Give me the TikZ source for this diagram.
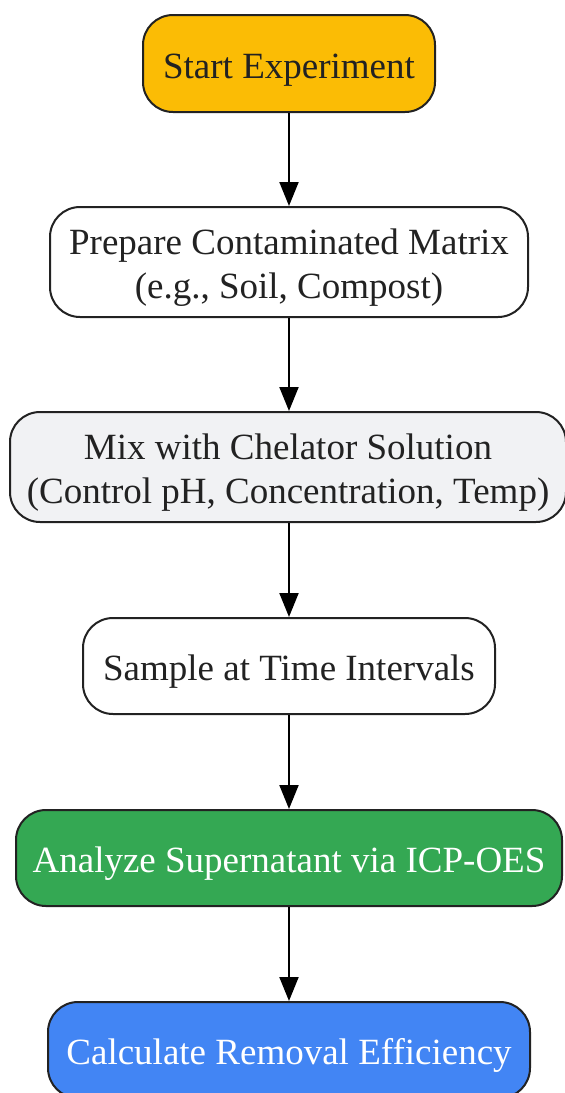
\documentclass[tikz,border=0pt]{standalone}
\usepackage{fontspec}
\setmainfont{Liberation Serif}
\usetikzlibrary{arrows.meta}
\definecolor{startc}{HTML}{FBBC05}
\definecolor{mixc}{HTML}{F1F2F4}
\definecolor{anac}{HTML}{34A853}
\definecolor{calcc}{HTML}{4285F4}
\definecolor{edgec}{HTML}{222222}
\newcommand{\boxtxt}[1]{\raisebox{-6pt}[\height][\depth]{\begin{tabular}{@{}c@{}}#1\end{tabular}}}
\begin{document}
\begin{tikzpicture}[x=1pt,y=-1pt,
  box/.style={draw=edgec,line width=2pt,rounded corners=30pt,inner sep=0pt,
    text=edgec,font=\fontsize{37}{44}\selectfont},
  flow/.style={line width=2pt,-{Triangle[length=24pt,width=19pt]}}]
\useasboundingbox (0,0) rectangle (565,1093);
\node[box,fill=startc,minimum width=292pt,minimum height=97pt] (s) at (289,63.5) {\boxtxt{Start Experiment}};
\node[box,fill=white,minimum width=478pt,minimum height=110pt] (p) at (289,262) {\boxtxt{Prepare Contaminated Matrix\\(e.g., Soil, Compost)}};
\node[box,fill=mixc,minimum width=556pt,minimum height=110pt] (m) at (288,467) {\boxtxt{Mix with Chelator Solution\\(Control pH, Concentration, Temp)}};
\node[box,fill=white,minimum width=412pt,minimum height=96pt] (t) at (289,666) {\boxtxt{Sample at Time Intervals}};
\node[box,fill=anac,text=white,minimum width=546pt,minimum height=96pt] (a) at (289,858) {\boxtxt{Analyze Supernatant via ICP-OES}};
\node[box,fill=calcc,text=white,minimum width=482pt,minimum height=96pt] (c) at (289,1050) {\boxtxt{Calculate Removal Efficiency}};
\draw[flow] (s.south) -- (p.north);
\draw[flow] (p.south) -- (p.south |- m.north);
\draw[flow] (p.south |- m.south) -- (t.north);
\draw[flow] (t.south) -- (a.north);
\draw[flow] (a.south) -- (c.north);
\end{tikzpicture}
\end{document}
